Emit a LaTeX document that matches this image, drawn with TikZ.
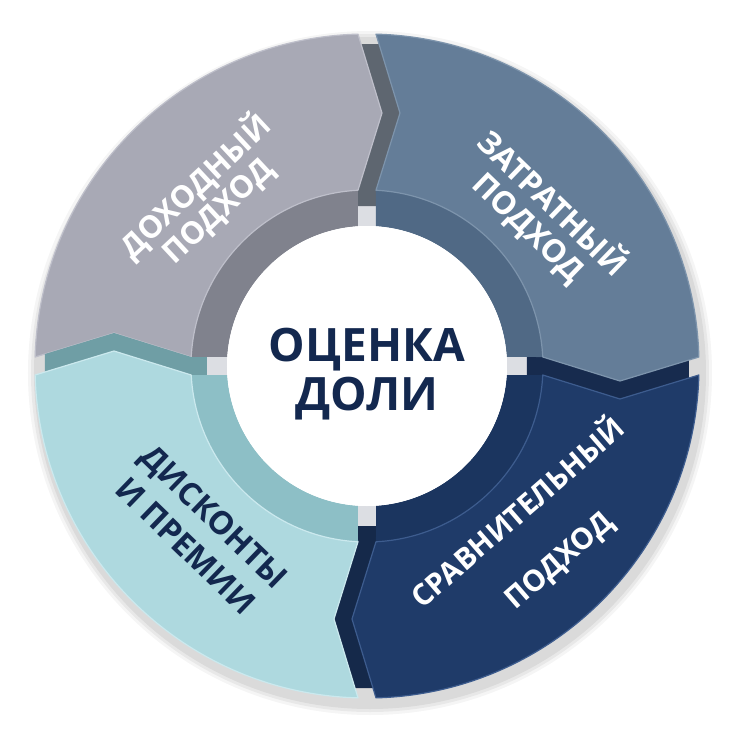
\documentclass[tikz,border=0pt]{standalone}
\usepackage{fontspec}
\setmainfont{Open Sans}
\definecolor{grayF}{HTML}{A8A9B5}
\definecolor{grayW}{HTML}{80828D}
\definecolor{grayG}{HTML}{5E6670}
\definecolor{grayE}{HTML}{BEBFCA}
\definecolor{steelF}{HTML}{647D98}
\definecolor{steelW}{HTML}{506985}
\definecolor{steelG}{HTML}{172B4E}
\definecolor{steelE}{HTML}{7D94AC}
\definecolor{navyF}{HTML}{1F3B69}
\definecolor{navyW}{HTML}{1B355F}
\definecolor{navyG}{HTML}{15294A}
\definecolor{navyE}{HTML}{3D5C8E}
\definecolor{lightF}{HTML}{AED9DF}
\definecolor{lightW}{HTML}{8DBFC6}
\definecolor{lightG}{HTML}{6F9EA5}
\definecolor{lightE}{HTML}{CBE9EE}
\definecolor{slotC}{HTML}{DCDEE3}
\definecolor{textNavy}{HTML}{13284F}
\newcommand\segGap[1]{\path[#1] (-6,322) -- (15,253) -- (-9,175.77) -- (-9,160) -- (9,160) -- (9,175.77) -- (33,253) -- (12,322) -- cycle;}
\newcommand\segSlot[1]{\path[#1] (-9,160) -- (-9,139.71) -- (9,139.71) -- (9,160) -- cycle;}
\newcommand\segWall[1]{\path[#1] (-9,175.77) arc[start angle=92.93, end angle=177.07, radius=176] -- (-139.71,9) arc[start angle=176.31, end angle=93.69, radius=140] -- cycle;}
\newcommand\segFace[1]{\path[#1] (-9,331.88) -- (15,253) -- (-9,175.77) arc[start angle=92.93, end angle=177.07, radius=176] -- (-253,33) -- (-331.88,9) arc[start angle=178.45, end angle=91.55, radius=332] -- cycle;}
\newcommand\segment[5]{%
  \begin{scope}[rotate=#1]
    \segSlot{fill=slotC}
    \segGap{fill=#4}
    \segWall{fill=#3}
    \segFace{fill=#2, draw=#5, line width=1.2pt, line join=round}
  \end{scope}}
\begin{document}
\begin{tikzpicture}[x=1pt,y=1pt,
  seglabel/.style={align=center, inner sep=0pt, text=white},
  centerlabel/.style={font=\fontsize{46}{49}\selectfont\bfseries, align=center, inner sep=0pt, text=textNavy}]
\useasboundingbox (-367,-366) rectangle (365,366);
\fill[white] (-367,-366) rectangle (365,366);
% soft shadow
\foreach \r/\o in {342/0.04,339/0.05,336/0.06}{\fill[black, opacity=\o] (3,-7) circle (\r);}
\fill[white] (0,0) circle (150);
\segment{0}{grayF}{grayW}{grayG}{grayE}
\segment{-90}{steelF}{steelW}{steelG}{steelE}
\segment{-180}{navyF}{navyW}{navyG}{navyE}
\segment{-270}{lightF}{lightW}{lightG}{lightE}
\fill[white] (0,0) circle (140);
% labels
\node[seglabel, rotate=43, font=\fontsize{31}{33}\selectfont\bfseries] (income) at (-161,168) {ДОХОДНЫЙ\\ПОДХОД};
\node[seglabel, rotate=-44, font=\fontsize{31.5}{33}\selectfont\bfseries] (cost) at (174,151) {ЗАТРАТНЫЙ\\ПОДХОД};
\node[seglabel, rotate=41, font=\fontsize{29.5}{62}\selectfont\bfseries] (market) at (171,-170) {СРАВНИТЕЛЬНЫЙ\\ПОДХОД};
\node[seglabel, rotate=-44, text=textNavy, font=\fontsize{32}{41}\selectfont\bfseries] (disc) at (-167,-165) {ДИСКОНТЫ\\И ПРЕМИИ};
\node[centerlabel] (center) at (0,-8) {ОЦЕНКА\\ДОЛИ};
\end{tikzpicture}
\end{document}
